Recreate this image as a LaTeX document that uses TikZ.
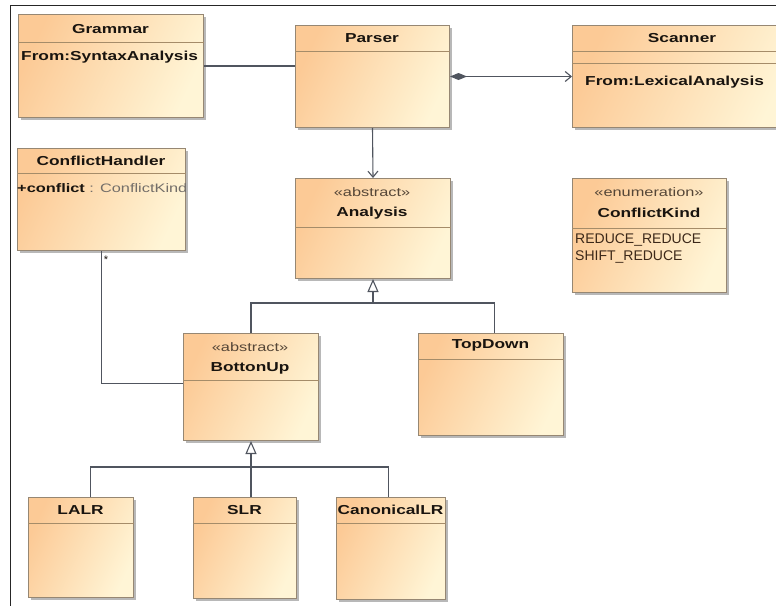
\documentclass[tikz,border=0pt]{standalone}
\usepackage{fontspec}
\setmainfont{Liberation Sans}
\newfontfamily\umlf[FakeStretch=1.33]{Liberation Sans}
\usetikzlibrary{arrows.meta,shadows,calc}
\definecolor{boxL}{RGB}{252,202,150}
\definecolor{boxR}{RGB}{255,245,214}
\definecolor{boxB}{RGB}{150,135,115}
\definecolor{sepC}{RGB}{165,140,105}
\definecolor{lineC}{RGB}{80,85,95}
\definecolor{txtC}{RGB}{25,20,15}
\definecolor{stC}{RGB}{85,70,55}
\definecolor{greyT}{RGB}{115,110,105}
\definecolor{litC}{RGB}{60,40,25}
\tikzset{
  cls/.style={draw=boxB, line width=1pt, rectangle, inner sep=0pt, anchor=north west,
    left color=boxL, right color=boxR, shading angle=65,
    drop shadow={shadow xshift=2.5pt, shadow yshift=-2.5pt, fill=black!28, opacity=1}},
  ttl/.style={font=\umlf\fontsize{13}{15}\selectfont\bfseries, text=txtC, inner sep=0pt},
  ster/.style={font=\umlf\fontsize{12.3}{14}\selectfont, text=stC, inner sep=0pt},
  attr/.style={font=\umlf\fontsize{13}{15}\selectfont\bfseries, text=txtC, inner sep=0pt, anchor=west},
  lit/.style={font=\fontsize{14}{16}\selectfont, text=litC, inner sep=0pt, anchor=west},
  sepl/.style={draw=sepC, line width=0.9pt},
  conn/.style={draw=lineC, line width=1.1pt},
  opentri/.style={-{Triangle[open,length=13pt,width=11pt]}},
  openv/.style={-{Straight Barb[length=6pt,width=10pt]}},
}
\newcommand\umlbox[6]{%
  \node[cls, minimum width=#4pt, minimum height=#5pt] (#1) at (#2,#3) {};
  \draw[sepl] ([yshift=-#6pt]#1.north west) -- ([yshift=-#6pt]#1.north east);
}
\begin{document}
\begin{tikzpicture}[x=1pt,y=-1pt]
\useasboundingbox (0,0) rectangle (776,605);
\fill[white] (0,0) rectangle (776,605);
\begin{scope}
\clip (0,0) rectangle (776,605);
% frame
\draw[black!85, line width=1pt] (10,606) -- (10,5) -- (777,5);
% boxes
\umlbox{Grammar}{18}{14}{185}{103}{28}
\umlbox{Parser}{295}{25}{154}{102}{26}
\umlbox{Scanner}{572}{25}{220}{102}{26}
\draw[sepl] ([yshift=-38pt]Scanner.north west) -- ([yshift=-38pt]Scanner.north east);
\umlbox{ConflictHandler}{17}{148}{168}{102}{25}
\umlbox{Analysis}{295}{178}{155}{100}{49}
\umlbox{ConflictKind}{572}{178}{154}{114}{50}
\umlbox{BottonUp}{183}{333}{135}{107}{47}
\umlbox{TopDown}{418}{333}{145}{102}{26}
\umlbox{LALR}{28}{497}{105}{100}{26}
\umlbox{SLR}{193}{497}{103}{101}{26}
\umlbox{CanonicalLR}{336}{497}{109}{102}{26}
% texts
\node[ttl] (tGrammar) at (110.5,29) {Grammar};
\node[attr] (aGrammar) at (21,57) {From:SyntaxAnalysis};
\node[ttl] (tParser) at (372,38) {Parser};
\node[ttl] (tScanner) at (682,38) {Scanner};
\node[attr] (aScanner) at (585,82) {From:LexicalAnalysis};
\node[ttl] (tCH) at (101,161) {ConflictHandler};
\node[attr, font=\umlf\fontsize{12.3}{14}\selectfont\bfseries] (aCH) at (17,188) {+conflict\mdseries\color{greyT}\ : ConflictKind};
\node[ster] (sAnalysis) at (372,192) {«abstract»};
\node[ttl] (tAnalysis) at (372,213) {Analysis};
\node[ster] (sCK) at (649,192) {«enumeration»};
\node[ttl] (tCK) at (649,213) {ConflictKind};
\node[lit] (l1) at (575,240) {REDUCE\_REDUCE};
\node[lit] (l2) at (575,257) {SHIFT\_REDUCE};
\node[ster] (sBU) at (250,347) {«abstract»};
\node[ttl] (tBU) at (250,368) {BottonUp};
\node[ttl] (tTD) at (490.5,345) {TopDown};
\node[ttl] (tLALR) at (80.5,510) {LALR};
\node[ttl] (tSLR) at (244.5,510) {SLR};
\node[ttl] (tCLR) at (390.5,510) {CanonicalLR};
% connectors
\draw[conn] (Grammar.east) -- (Grammar.east -| Parser.west);
\draw[conn, {Diamond[length=17pt,width=7pt]}-{Straight Barb[length=6pt,width=10pt]}] (Parser.east) -- (Parser.east -| Scanner.west);
\draw[conn, openv] (Parser.south) -- (Analysis.north);
\coordinate (hA) at ($(Analysis.south)+(0,24)$);
\draw[conn, opentri] (hA) -- (Analysis.south);
\draw[conn] (BottonUp.north) |- (hA);
\draw[conn] ([xshift=3.5pt]TopDown.north) |- (hA);
\coordinate (hB) at ($(BottonUp.south)+(0,26)$);
\draw[conn, opentri] (hB) -- (BottonUp.south);
\draw[conn] ([xshift=9.5pt]LALR.north) |- (hB);
\draw[conn] ([xshift=6pt]SLR.north) |- (hB);
\draw[conn] ([xshift=-2.5pt]CanonicalLR.north) |- (hB);
\draw[conn] (ConflictHandler.south) |- ([yshift=3.5pt]BottonUp.west);
\node[font=\fontsize{11}{12}\selectfont, text=txtC, inner sep=0pt] (star) at (106,260) {*};
\end{scope}
\end{tikzpicture}
\end{document}
